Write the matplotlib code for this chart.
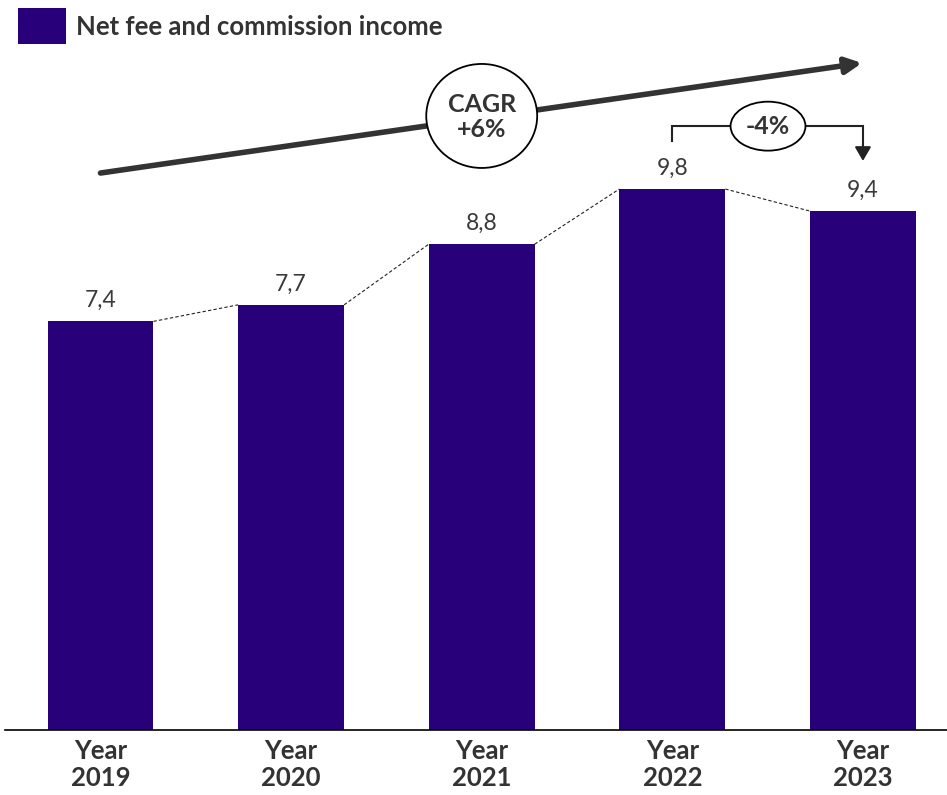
import matplotlib
matplotlib.use("Agg")
import matplotlib.pyplot as plt
from matplotlib.patches import Ellipse, Rectangle

# Data
years = ["2019", "2020", "2021", "2022", "2023"]
values = [7.4, 7.7, 8.8, 9.8, 9.4]
value_labels = ["7,4", "7,7", "8,8", "9,8", "9,4"]
series_name = "Net fee and commission income"
cagr_text = "CAGR\n+6%"
change_text = "-4%"

BAR_COLOR = "#28007a"
TEXT_COLOR = "#333333"
FONT = ["Lato", "DejaVu Sans"]

plt.rcParams["font.family"] = FONT

W, H = 947, 795
fig = plt.figure(figsize=(W / 100, H / 100), dpi=100)
ax = fig.add_axes([5 / W, (H - 729.5) / H, 942 / W, 729.5 / H])

x = list(range(len(years)))
bar_w = 0.556
ax.bar(x, values, width=bar_w, color=BAR_COLOR, zorder=2)

ax.set_xlim(-0.501, 4.441)
ax.set_ylim(0, 729.5 / 55.15)

# value labels above each bar
for xi, v, lab in zip(x, values, value_labels):
    ax.annotate(lab, (xi, v), xytext=(0, 7.5), textcoords="offset points",
                ha="center", va="bottom", fontsize=16.5, color="#3a3a3a")

# dashed connectors between bar tops
for i in range(len(values) - 1):
    ax.plot([x[i] + bar_w / 2, x[i + 1] - bar_w / 2], [values[i], values[i + 1]],
            color="#222222", lw=0.8, dashes=(3, 2), zorder=1)

# axes styling
for s in ["top", "right", "left"]:
    ax.spines[s].set_visible(False)
ax.spines["bottom"].set_color("black")
ax.spines["bottom"].set_linewidth(1.2)
ax.set_yticks([])
ax.set_xticks(x)
ax.set_xticklabels([f"Year\n{y}" for y in years], fontsize=18.5, fontweight="bold",
                   color=TEXT_COLOR, linespacing=1.12)
ax.tick_params(axis="x", length=0, pad=7)

# overall growth arrow with CAGR bubble
ax.annotate("", xy=(3.995, 12.085), xytext=(0.0, 10.09),
            arrowprops=dict(arrowstyle="-|>,head_length=0.8,head_width=0.4",
                            lw=4, color=TEXT_COLOR, mutation_scale=12,
                            shrinkA=0, shrinkB=0), zorder=3)
ax.add_patch(Ellipse((2.0, 11.125), 0.582, 1.886, facecolor="white",
                     edgecolor="black", lw=1.3, zorder=4))
ax.text(2.0, 11.1, cagr_text, ha="center", va="center", fontsize=18,
        fontweight="bold", color=TEXT_COLOR, linespacing=1.1, zorder=5)

# year-on-year change bracket
y_br = 10.94
ax.plot([3, 3, 4, 4], [10.67, y_br, y_br, 10.6], color="#222222", lw=1.5,
        solid_joinstyle="miter", zorder=3)
ax.annotate("", xy=(4, 10.31), xytext=(4, 10.62),
            arrowprops=dict(arrowstyle="-|>,head_length=0.6,head_width=0.35",
                            lw=1.5, color="#222222", mutation_scale=14,
                            shrinkA=0, shrinkB=0), zorder=3)
ax.add_patch(Ellipse((3.502, y_br), 0.393, 0.888, facecolor="white",
                     edgecolor="black", lw=1.3, zorder=4))
ax.text(3.502, y_br, change_text, ha="center", va="center", fontsize=18,
        fontweight="bold", color=TEXT_COLOR, zorder=5)

# legend key and label
fig.add_artist(Rectangle((18 / W, 1 - 44 / H), 48 / W, 36 / H,
                         transform=fig.transFigure, facecolor=BAR_COLOR,
                         edgecolor="none"))
fig.text(76 / W, 1 - 27 / H, series_name, ha="left", va="center",
         fontsize=18.5, fontweight="bold", color=TEXT_COLOR)

fig.savefig("out.png", dpi=100)
